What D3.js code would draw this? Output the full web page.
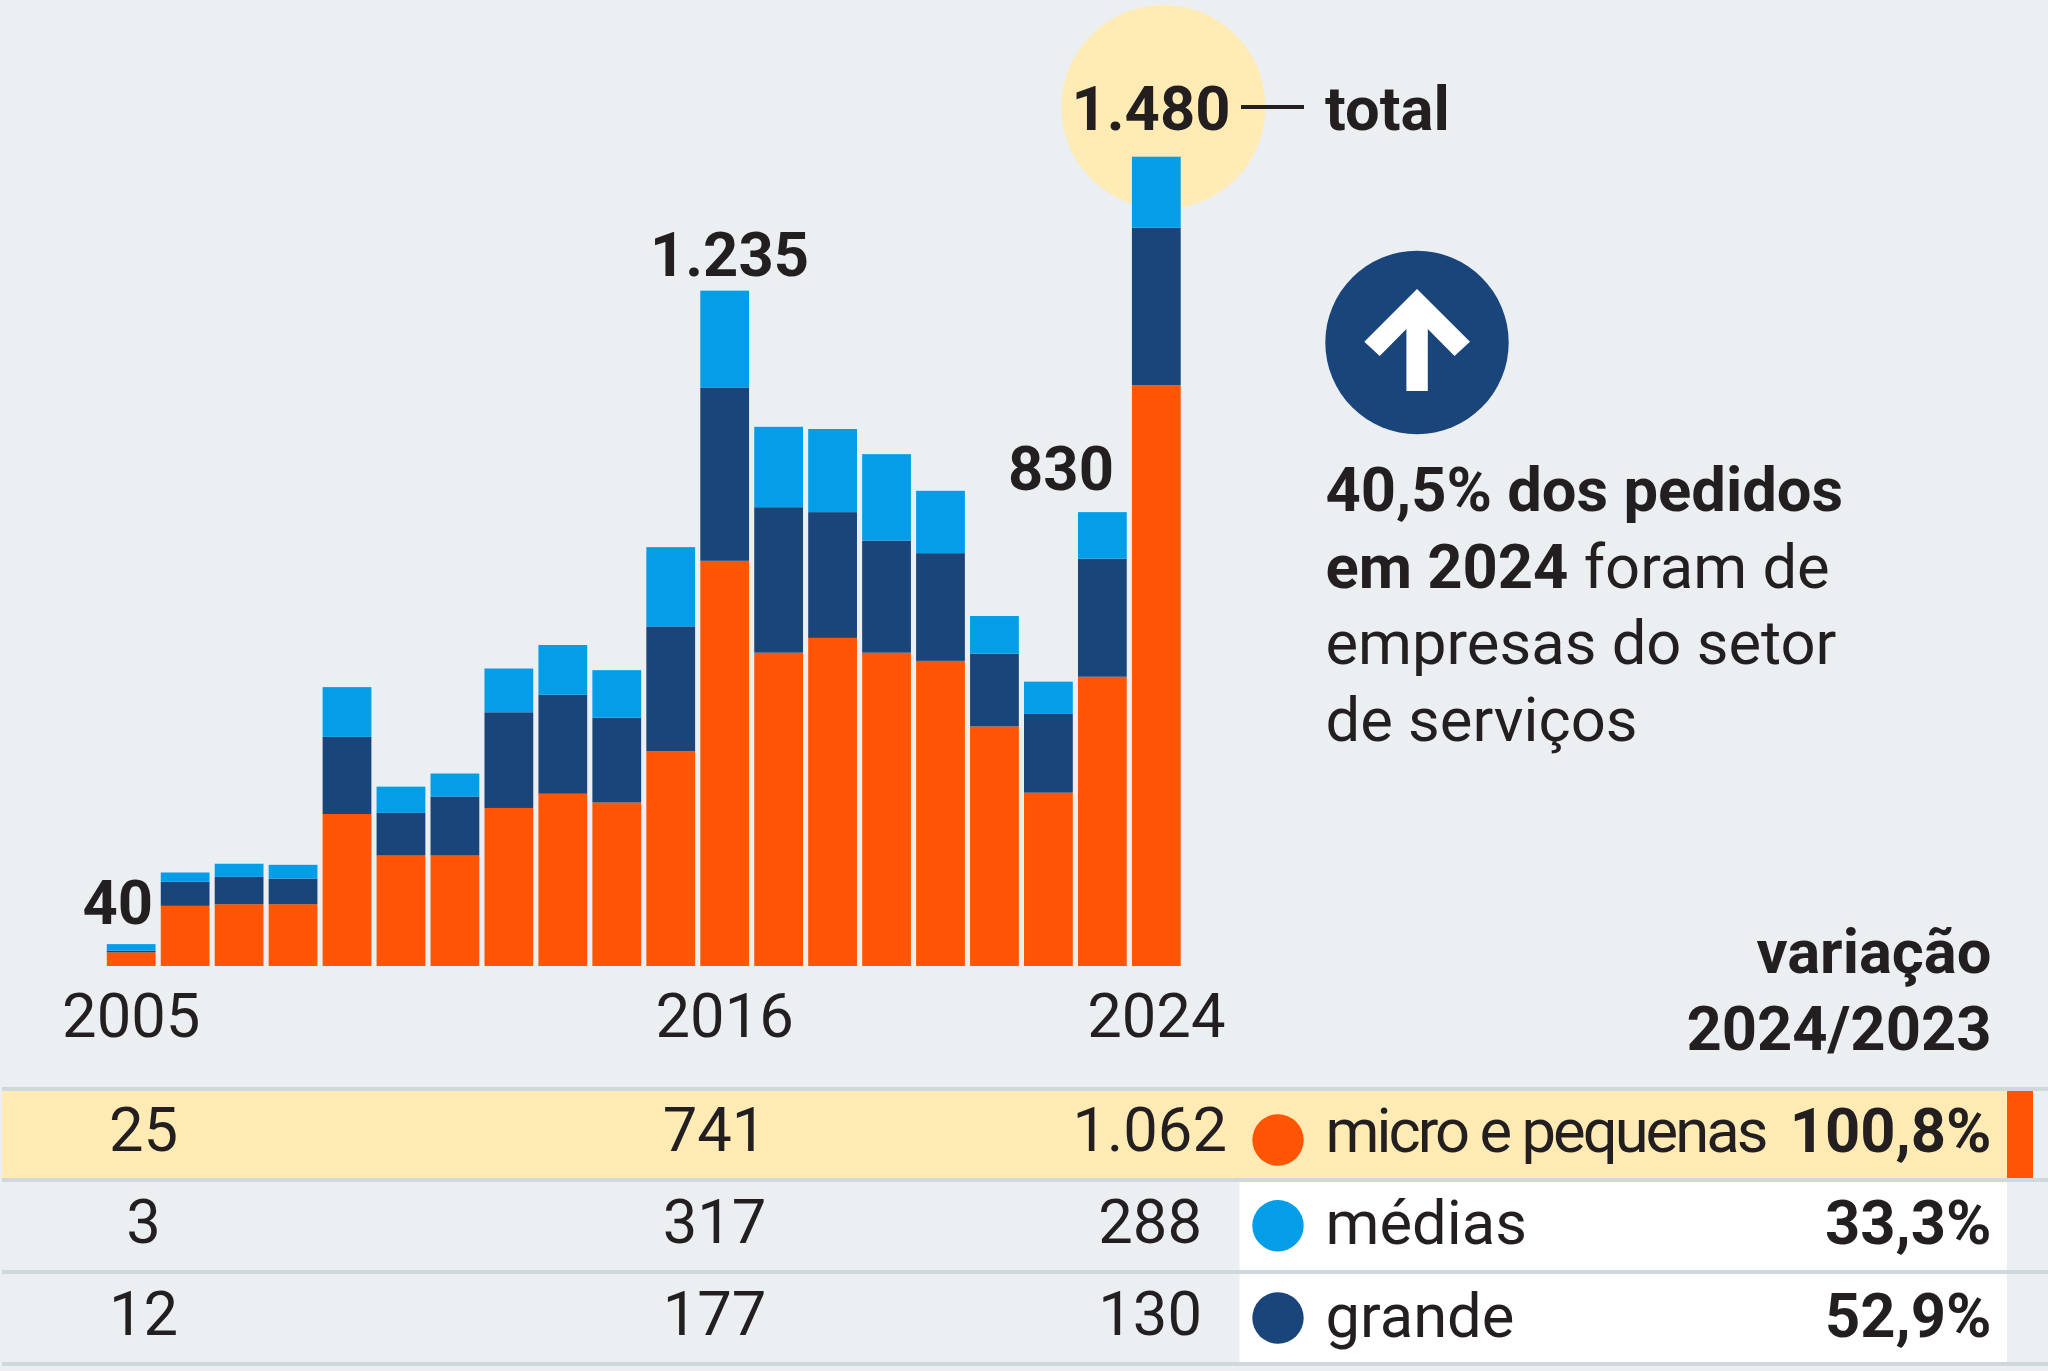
<!DOCTYPE html>
<html><head><meta charset="utf-8">
<script src="https://cdnjs.cloudflare.com/ajax/libs/d3/7.8.5/d3.min.js"></script>
<style>
html,body{margin:0;padding:0;background:#ebeff2}
svg{display:block}
text{font-family:Roboto,sans-serif;fill:#231f20;font-size:61.5px}
.b{font-weight:700}
.axis text{font-size:61.5px}
</style></head><body>
<svg id="c" width="2048" height="1371"></svg>
<script>
const years=[2005,2006,2007,2008,2009,2010,2011,2012,2013,2014,2015,2016,2017,2018,2019,2020,2021,2022,2023,2024];
const microPequenas=[25,110,113,113,278,202,202,289,315,299,393,741,573,600,573,558,438,317,529,1062];
const faixaEscura=[3,44,50,47,141,78,108,175,181,155,228,317,266,230,205,197,133,144,216,288];
const faixaClara=[12,17,24,25,91,48,42,80,91,87,145,177,147,152,158,114,69,59,85,130];
const tickYears=[2005,2016,2024];
const totalLabels=[[2005,"40"],[2016,"1.235"],[2023,"830"],[2024,"1.480"]];
const rowNames=["micro e pequenas","médias","grande"];
const rowCol2005=["25","3","12"];
const rowCol2016=["741","317","177"];
const rowCol2024=["1.062","288","130"];
const rowVariation=["100,8%","33,3%","52,9%"];
const rowColors=["#ff5505","#049de8","#19457a"];
const noteLines=[[["40,5% dos pedidos",1]],[["em 2024",1],[" foram de",0]],[["empresas do setor",0]],[["de serviços",0]]];

const svg=d3.select("#c");
svg.append("rect").attr("width",2048).attr("height",1371).attr("fill","#ebeff2");

const x=d3.scaleBand().domain(years).range([106.8,1180.7]).paddingInner(0.096);
const y=d3.scaleLinear().domain([0,1480]).range([966,156.7]);

// highlight behind last bar
svg.append("circle").attr("cx",1163.5).attr("cy",107).attr("r",102).attr("fill","#ffebb3");

const table=years.map((yr,i)=>({year:yr,micro:microPequenas[i],escura:faixaEscura[i],clara:faixaClara[i]}));
const stack=d3.stack().keys(["micro","escura","clara"])(table);
const fills={micro:"#ff5505",escura:"#19457a",clara:"#049de8"};
svg.append("g").selectAll("g").data(stack).join("g").attr("fill",d=>fills[d.key])
 .selectAll("rect").data(d=>d).join("rect")
 .attr("x",d=>x(d.data.year)).attr("width",x.bandwidth())
 .attr("y",d=>y(d[1])).attr("height",d=>y(d[0])-y(d[1]));

const axis=d3.axisBottom(x).tickValues(tickYears).tickSize(0).tickPadding(14);
const gAxis=svg.append("g").attr("class","axis").attr("transform","translate(0,966)").call(axis);
gAxis.select(".domain").remove();
gAxis.selectAll("text").attr("dy",null).attr("y",70.8).attr("fill","#231f20");

// total labels
const labelPos={2005:[153,923.5,"end"],2016:[729.5,276,"middle"],2023:[1061,490,"middle"],2024:[1151,129.6,"middle"]};
svg.append("g").selectAll("text").data(totalLabels).join("text").attr("class","b")
 .attr("x",d=>labelPos[d[0]][0]).attr("y",d=>labelPos[d[0]][1]).attr("text-anchor",d=>labelPos[d[0]][2]).text(d=>d[1]);
svg.append("line").attr("x1",1241).attr("x2",1304).attr("y1",107).attr("y2",107).attr("stroke","#231f20").attr("stroke-width",4);
svg.append("text").attr("class","b").attr("x",1325).attr("y",129.6).text("total");

// arrow badge
svg.append("circle").attr("cx",1417).attr("cy",342.5).attr("r",91.7).attr("fill","#19457a");
svg.append("path").attr("fill","#fff").attr("d",d3.line()([[1417,289],[1470,341.7],[1454.5,356],[1427.8,329],[1427.8,391],[1406.4,391],[1406.4,329],[1379.7,356],[1364.3,341.7]])+"Z");

// note
const note=svg.append("g");
const noteY=[510.7,587.6,664,741];
noteLines.forEach((ln,i)=>{
  const t=note.append("text").attr("x",1325.5).attr("y",noteY[i]).attr("xml:space","preserve").style("white-space","pre");
  ln.forEach(s=>t.append("tspan").attr("font-weight",s[1]?700:400).text(s[0]));
});

// table header
const hd=svg.append("g").attr("text-anchor","end");
hd.append("text").attr("class","b").attr("x",1991.5).attr("y",972.7).text("variação");
hd.append("text").attr("class","b").attr("x",1991.5).attr("y",1049.5).text("2024/2023");

// table bands
svg.append("rect").attr("x",2).attr("y",1090.7).attr("width",2005).attr("height",87.3).attr("fill","#ffebb3");
svg.append("rect").attr("x",2007).attr("y",1090.7).attr("width",26).attr("height",87.3).attr("fill","#ff5505");
[[1182,88],[1274,88]].forEach(r=>svg.append("rect").attr("x",1239.5).attr("y",r[0]).attr("width",767.5).attr("height",r[1]).attr("fill","#fff"));
[1089,1180,1272,1364].forEach(v=>svg.append("rect").attr("x",2).attr("y",v-2).attr("width",2046).attr("height",4).attr("fill","#cfd8dd"));

// rows
const rowBase=[1150.6,1242.6,1335];
const dotY=[1140,1225.7,1318];
const col3=[1227,1202,1202];
rowNames.forEach((n,i)=>{
  svg.append("text").attr("x",143.5).attr("y",rowBase[i]).attr("text-anchor","middle").text(rowCol2005[i]);
  svg.append("text").attr("x",714.5).attr("y",rowBase[i]).attr("text-anchor","middle").text(rowCol2016[i]);
  svg.append("text").attr("x",col3[i]).attr("y",rowBase[i]).attr("text-anchor","end").text(rowCol2024[i]);
  svg.append("circle").attr("cx",1278).attr("cy",dotY[i]).attr("r",25.7).attr("fill",rowColors[i]);
  const t=svg.append("text").attr("x",1325.5).attr("y",rowBase[i]+1.7).text(n);
  if(i===0)t.attr("textLength",443).attr("lengthAdjust","spacing");
  svg.append("text").attr("class","b").attr("x",1991.5).attr("y",rowBase[i]+1.7).attr("text-anchor","end").text(rowVariation[i]);
});
</script></body></html>
